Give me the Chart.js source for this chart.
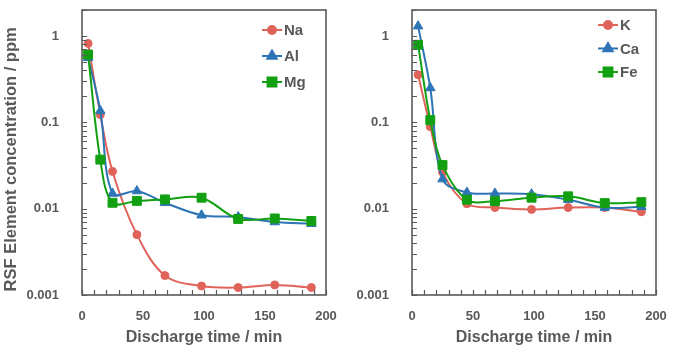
<!DOCTYPE html>
<html>
<head>
<meta charset="utf-8">
<script src="https://cdn.jsdelivr.net/npm/chart.js@4.4.1/dist/chart.umd.min.js"></script>
<style>
  html, body { margin: 0; padding: 0; background: #fff; }
  #wrap { position: relative; width: 680px; height: 351px; }
  .panel { position: absolute; top: 0; width: 340px; height: 351px; }
</style>
</head>
<body>
<div id="wrap">
  <div class="panel" style="left:0"><canvas id="leftChart" width="340" height="351"></canvas></div>
  <div class="panel" style="left:340px"><canvas id="rightChart" width="340" height="351"></canvas></div>
</div>
<script>
// discharge time (min) for every sample
const timeMin = [5, 15, 25, 45, 68, 98, 128, 158, 188];

// left panel
const naValues = [0.82, 0.123, 0.027, 0.0050, 0.00168, 0.00127, 0.00122, 0.00131, 0.00122];
const alValues = [0.56, 0.136, 0.015, 0.016, 0.0117, 0.0084, 0.0080, 0.0070, 0.0067];
const mgValues = [0.61, 0.037, 0.0117, 0.0123, 0.0128, 0.0134, 0.0076, 0.0077, 0.0072];

// right panel
const kValues  = [0.355, 0.089, 0.0265, 0.0114, 0.0103, 0.0098, 0.0103, 0.0103, 0.0092];
const caValues = [1.3, 0.25, 0.022, 0.0154, 0.0150, 0.0147, 0.0127, 0.0103, 0.0105];
const feValues = [0.79, 0.106, 0.032, 0.0127, 0.0122, 0.0134, 0.0139, 0.0116, 0.0119];

// axis ticks
const yTicks = [0.001, 0.01, 0.1, 1];
const yTickLabels = ['0.001', '0.01', '0.1', '1'];
const xTicks = [0, 50, 100, 150, 200];

const GREY = '#595959';
const RED = '#e0635a';
const BLUE = '#2e75b6';
const GREEN = '#12a012';
const FONT = 'Arial, "Liberation Sans", sans-serif';

Chart.defaults.font.family = FONT;
Chart.defaults.color = GREY;

function series(label, values, color, style, radius, order) {
  return {
    label: label,
    data: timeMin.map((t, i) => ({ x: t, y: values[i] })),
    borderColor: color,
    backgroundColor: color,
    pointBackgroundColor: color,
    pointBorderColor: color,
    pointStyle: style,
    pointRadius: radius,
    pointBorderWidth: 1,
    borderWidth: 2,
    tension: 0.35,
    order: order
  };
}

// frame round the plot area plus inward minor ticks
const framePlugin = {
  id: 'frame',
  afterDraw(chart) {
    const { ctx, chartArea: a, scales } = chart;
    ctx.save();
    ctx.strokeStyle = GREY;
    ctx.lineWidth = 1.2;
    ctx.beginPath();
    yTicks.forEach(d => {
      for (let k = 1; k <= 9; k++) {
        const v = d * k;
        if (v < scales.y.min - 1e-12 || v > scales.y.max) continue;
        const y = Math.round(scales.y.getPixelForValue(v)) + 0.5;
        ctx.moveTo(a.left, y);
        ctx.lineTo(a.left + 5, y);
      }
    });
    for (let t = 0; t <= 200; t += 10) {
      const x = Math.round(scales.x.getPixelForValue(t)) + 0.5;
      ctx.moveTo(x, a.bottom);
      ctx.lineTo(x, a.bottom - 5);
    }
    ctx.stroke();
    ctx.lineWidth = 1.6;
    ctx.strokeRect(a.left, a.top, a.right - a.left, a.bottom - a.top);
    ctx.restore();
  }
};

// legend drawn inside the plot, top right
const insideLegend = {
  id: 'insideLegend',
  afterDatasetsDraw(chart, args, opts) {
    const ctx = chart.ctx;
    ctx.save();
    ctx.font = 'bold 15px ' + FONT;
    ctx.textBaseline = 'middle';
    chart.data.datasets.forEach((ds, i) => {
      const y = opts.top + i * opts.gap;
      ctx.strokeStyle = ds.borderColor;
      ctx.fillStyle = ds.backgroundColor;
      ctx.lineWidth = 2;
      ctx.beginPath();
      ctx.moveTo(opts.left, y);
      ctx.lineTo(opts.left + 20, y);
      ctx.stroke();
      Chart.helpers.drawPoint(ctx, {
        pointStyle: ds.pointStyle, radius: ds.pointRadius, rotation: 0, borderWidth: 1
      }, opts.left + 10, y);
      ctx.fillStyle = GREY;
      ctx.fillText(ds.label, opts.left + 22, y + 1);
    });
    ctx.restore();
  }
};

function makeChart(id, datasets, yTitle, yWidth, padRight, legendPos) {
  return new Chart(document.getElementById(id), {
    type: 'line',
    data: { datasets: datasets },
    plugins: [framePlugin, insideLegend],
    options: {
      responsive: false,
      animation: false,
      layout: { padding: { top: 10, right: padRight, left: 0, bottom: 0 } },
      plugins: {
        legend: { display: false },
        tooltip: { enabled: false },
        insideLegend: legendPos
      },
      scales: {
        x: {
          type: 'linear',
          min: 0,
          max: 200,
          grid: { display: false },
          border: { display: false },
          afterBuildTicks: s => { s.ticks = xTicks.map(v => ({ value: v })); },
          ticks: { padding: 6, font: { size: 13, weight: 'bold' }, color: GREY, maxRotation: 0 },
          title: {
            display: true,
            text: 'Discharge time / min',
            font: { size: 16, weight: 'bold' },
            color: GREY,
            padding: { top: 2, bottom: 4 }
          },
          afterFit: s => { s.height = 56; s.paddingLeft = 0; s.paddingRight = 0; }
        },
        y: {
          type: 'logarithmic',
          min: 0.001,
          max: 2,
          grid: { display: false },
          border: { display: false },
          afterBuildTicks: s => { s.ticks = yTicks.map(v => ({ value: v })); },
          ticks: {
            padding: 15,
            font: { size: 13, weight: 'bold' },
            color: GREY,
            callback: v => {
              const i = yTicks.indexOf(v);
              return i >= 0 ? yTickLabels[i] : '';
            }
          },
          title: {
            display: yTitle !== '',
            // trailing spaces push the centred title a little lower, as in the original
            text: yTitle + '   ',
            font: { size: 16.5, weight: 'bold' },
            color: GREY,
            padding: { top: 2, bottom: 0 }
          },
          afterFit: s => { s.width = yWidth; s.paddingTop = 0; s.paddingBottom = 0; }
        }
      }
    }
  });
}

makeChart('leftChart', [
  series('Na', naValues, RED, 'circle', 4, 3),
  series('Al', alValues, BLUE, 'triangle', 5.5, 2),
  series('Mg', mgValues, GREEN, 'rect', 6.3, 1)
], 'RSF Element concentration / ppm', 82, 14, { left: 262, top: 30, gap: 26 });

makeChart('rightChart', [
  series('K', kValues, RED, 'circle', 4, 3),
  series('Ca', caValues, BLUE, 'triangle', 5.5, 2),
  series('Fe', feValues, GREEN, 'rect', 6.3, 1)
], '', 72, 24, { left: 258, top: 25, gap: 23.5 });
</script>
</body>
</html>
